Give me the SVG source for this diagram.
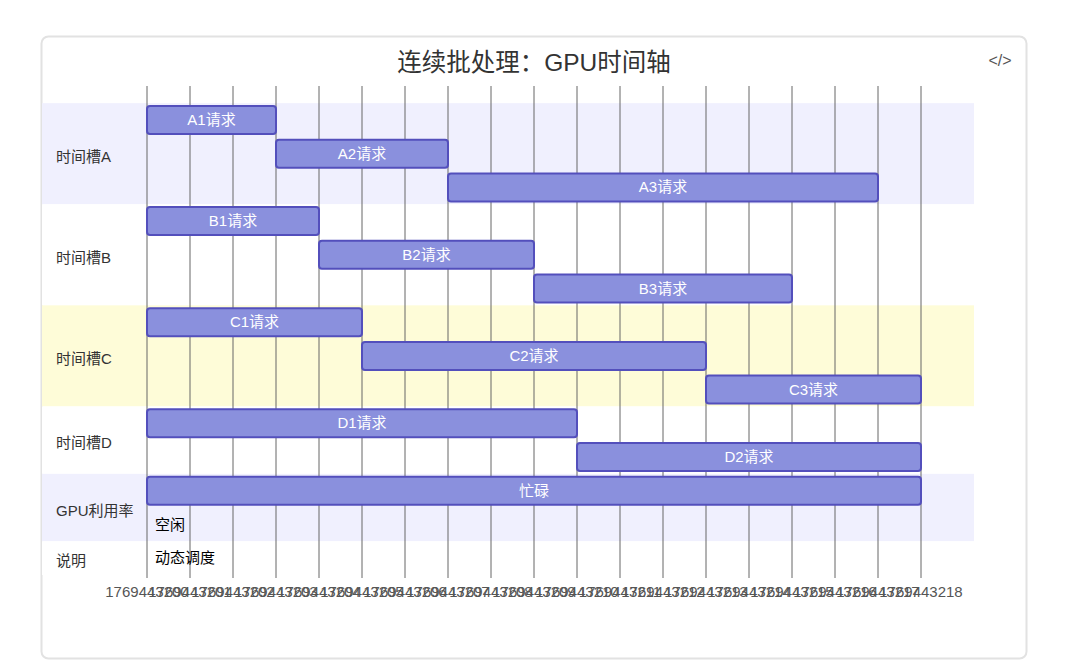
<svg xmlns="http://www.w3.org/2000/svg" width="1080" height="670" viewBox="0 0 1080 670">
<style>
text{font-family:"Liberation Sans","Noto Sans CJK SC",sans-serif}
.title{font-size:24.5px;fill:#333;text-anchor:middle}
.sec{font-size:15px;fill:#333}
.bar{fill:#8a90dd;stroke:#534fbc;stroke-width:2}
.bt{font-size:15px;fill:#fff;text-anchor:middle}
.ot{font-size:15px;fill:#000}
.grid line{stroke:#666;stroke-width:1}
.tick{font-size:15px;fill:#555;text-anchor:middle}
</style>
<rect x="0" y="0" width="1080" height="670" fill="#fff"/>
<rect id="card" x="41.5" y="36.5" width="985" height="622" rx="7" fill="#fff" stroke="#e2e2e2" stroke-width="2"/>
<text class="title" x="534" y="71">连续批处理：GPU时间轴</text>
<text x="1000" y="66" font-size="16" fill="#555" text-anchor="middle">&lt;/&gt;</text>
<g id="sections">
<rect x="42" y="103.15" width="932" height="101.1" fill="#f0f0fe"/>
<rect x="42" y="204.25" width="932" height="101.1" fill="#fff"/>
<rect x="42" y="305.35" width="932" height="101.1" fill="#fefcd8"/>
<rect x="42" y="406.45" width="932" height="67.4" fill="#fff"/>
<rect x="42" y="473.85" width="932" height="67.4" fill="#f0f0fe"/>
<rect x="42" y="541.25" width="932" height="33.7" fill="#fff"/>
</g>
<g id="grid" class="grid">
<line x1="147" y1="86" x2="147" y2="578"/><line x1="190" y1="86" x2="190" y2="578"/><line x1="233" y1="86" x2="233" y2="578"/><line x1="276" y1="86" x2="276" y2="578"/><line x1="319" y1="86" x2="319" y2="578"/><line x1="362" y1="86" x2="362" y2="578"/><line x1="405" y1="86" x2="405" y2="578"/><line x1="448" y1="86" x2="448" y2="578"/><line x1="491" y1="86" x2="491" y2="578"/><line x1="534" y1="86" x2="534" y2="578"/><line x1="577" y1="86" x2="577" y2="578"/><line x1="620" y1="86" x2="620" y2="578"/><line x1="663" y1="86" x2="663" y2="578"/><line x1="706" y1="86" x2="706" y2="578"/><line x1="749" y1="86" x2="749" y2="578"/><line x1="792" y1="86" x2="792" y2="578"/><line x1="835" y1="86" x2="835" y2="578"/><line x1="878" y1="86" x2="878" y2="578"/><line x1="921" y1="86" x2="921" y2="578"/>
</g>
<g id="axis">
<text class="tick" x="147" y="597">1769443200</text><text class="tick" x="190" y="597">1769443201</text><text class="tick" x="233" y="597">1769443202</text><text class="tick" x="276" y="597">1769443203</text><text class="tick" x="319" y="597">1769443204</text><text class="tick" x="362" y="597">1769443205</text><text class="tick" x="405" y="597">1769443206</text><text class="tick" x="448" y="597">1769443207</text><text class="tick" x="491" y="597">1769443208</text><text class="tick" x="534" y="597">1769443209</text><text class="tick" x="577" y="597">1769443210</text><text class="tick" x="620" y="597">1769443211</text><text class="tick" x="663" y="597">1769443212</text><text class="tick" x="706" y="597">1769443213</text><text class="tick" x="749" y="597">1769443214</text><text class="tick" x="792" y="597">1769443215</text><text class="tick" x="835" y="597">1769443216</text><text class="tick" x="878" y="597">1769443217</text><text class="tick" x="921" y="597">1769443218</text>
</g>
<g id="labels">
<text class="sec" x="56" y="162">时间槽A</text>
<text class="sec" x="56" y="263">时间槽B</text>
<text class="sec" x="56" y="364">时间槽C</text>
<text class="sec" x="56" y="448">时间槽D</text>
<text class="sec" x="56" y="516">GPU利用率</text>
<text class="sec" x="56" y="566">说明</text>
</g>
<g id="A1"><rect class="bar" x="147" y="106" width="129" height="28" rx="3"/><text class="bt" x="211.5" y="125">A1请求</text></g>
<g id="A2"><rect class="bar" x="276" y="139.7" width="172" height="28" rx="3"/><text class="bt" x="362" y="158.7">A2请求</text></g>
<g id="A3"><rect class="bar" x="448" y="173.4" width="430" height="28" rx="3"/><text class="bt" x="663" y="192.4">A3请求</text></g>
<g id="B1"><rect class="bar" x="147" y="207.1" width="172" height="28" rx="3"/><text class="bt" x="233" y="226.1">B1请求</text></g>
<g id="B2"><rect class="bar" x="319" y="240.8" width="215" height="28" rx="3"/><text class="bt" x="426.5" y="259.8">B2请求</text></g>
<g id="B3"><rect class="bar" x="534" y="274.5" width="258" height="28" rx="3"/><text class="bt" x="663" y="293.5">B3请求</text></g>
<g id="C1"><rect class="bar" x="147" y="308.2" width="215" height="28" rx="3"/><text class="bt" x="254.5" y="327.2">C1请求</text></g>
<g id="C2"><rect class="bar" x="362" y="341.9" width="344" height="28" rx="3"/><text class="bt" x="534" y="360.9">C2请求</text></g>
<g id="C3"><rect class="bar" x="706" y="375.6" width="215" height="28" rx="3"/><text class="bt" x="813.5" y="394.6">C3请求</text></g>
<g id="D1"><rect class="bar" x="147" y="409.3" width="430" height="28" rx="3"/><text class="bt" x="362" y="428.3">D1请求</text></g>
<g id="D2"><rect class="bar" x="577" y="443" width="344" height="28" rx="3"/><text class="bt" x="749" y="462">D2请求</text></g>
<g id="GPU"><rect class="bar" x="147" y="476.7" width="774" height="28" rx="3"/><text class="bt" x="534" y="495.7">忙碌</text></g>
<g id="idle"><text class="ot" x="155" y="529.5">空闲</text></g>
<g id="note"><text class="ot" x="155" y="563">动态调度</text></g>
</svg>
